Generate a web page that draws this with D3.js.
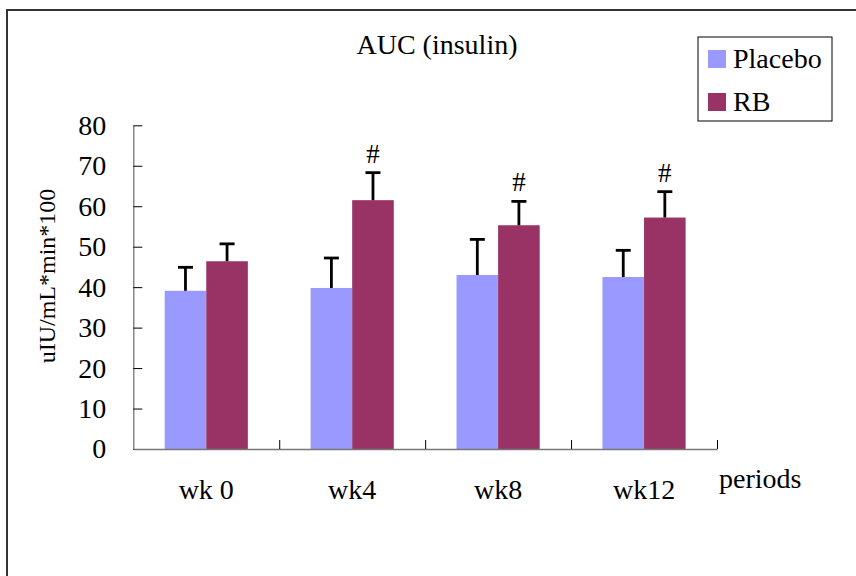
<!DOCTYPE html>
<html>
<head>
<meta charset="UTF-8" />
<title>AUC (insulin)</title>
<style>
  body { margin: 0; background: #fff; }
  svg { display: block; font-family: "Liberation Serif", "Times New Roman", serif; }
</style>
</head>
<body>
<script src="https://cdn.jsdelivr.net/npm/d3@7"></script>
<div id="app"></div>
<script>
// data
const periods = ["wk 0", "wk4", "wk8", "wk12"];
const series = ["Placebo", "RB"];
const placeboMean = [39.1, 39.8, 43.0, 42.5];
const placeboSd = [5.8, 7.4, 8.8, 6.6];
const rbMean = [46.4, 61.5, 55.3, 57.2];
const rbSd = [4.3, 6.8, 5.9, 6.4];
const rbMark = ["", "#", "#", "#"];
const yTicks = [0, 10, 20, 30, 40, 50, 60, 70, 80];

const colors = { "Placebo": "#9999ff", "RB": "#993366" };

const w = 856, h = 576;
const plotL = 133.3, plotR = 717, plotT = 125.3, plotB = 449;

const svg = d3.select("#app").append("svg")
  .attr("width", w)
  .attr("height", h);

// outer frame (only top and left edges show)
svg.append("rect")
  .attr("x", 7).attr("y", 10)
  .attr("width", 900).attr("height", 700)
  .attr("fill", "none")
  .attr("stroke", "#333")
  .attr("stroke-width", 2);

// scales
const x0 = d3.scaleBand()
  .domain(periods)
  .range([plotL, plotR])
  .paddingInner(0.43)
  .paddingOuter(0.215);

const x1 = d3.scaleBand()
  .domain(series)
  .range([0, x0.bandwidth()]);

const y = d3.scaleLinear()
  .domain([0, 80])
  .range([plotB, plotT]);

const rows = periods.map((p, i) => ({
  period: p,
  values: [
    { key: "Placebo", mean: placeboMean[i], sd: placeboSd[i], mark: "" },
    { key: "RB", mean: rbMean[i], sd: rbSd[i], mark: rbMark[i] }
  ]
}));

// bars
const groups = svg.selectAll("g.grp")
  .data(rows)
  .enter()
  .append("g")
  .attr("class", "grp")
  .attr("transform", d => "translate(" + x0(d.period) + ",0)");

groups.selectAll("rect")
  .data(d => d.values)
  .enter()
  .append("rect")
  .attr("x", d => x1(d.key))
  .attr("y", d => y(d.mean))
  .attr("width", x1.bandwidth())
  .attr("height", d => y(0) - y(d.mean))
  .attr("fill", d => colors[d.key]);

// error bars (upper only)
const err = groups.selectAll("g.err")
  .data(d => d.values)
  .enter()
  .append("g")
  .attr("class", "err")
  .attr("stroke", "#000")
  .attr("stroke-width", 2.8);

err.append("line")
  .attr("x1", d => x1(d.key) + x1.bandwidth() / 2)
  .attr("x2", d => x1(d.key) + x1.bandwidth() / 2)
  .attr("y1", d => y(d.mean))
  .attr("y2", d => y(d.mean + d.sd));

err.append("line")
  .attr("x1", d => x1(d.key) + x1.bandwidth() / 2 - 7.5)
  .attr("x2", d => x1(d.key) + x1.bandwidth() / 2 + 7.5)
  .attr("y1", d => y(d.mean + d.sd))
  .attr("y2", d => y(d.mean + d.sd));

groups.selectAll("text.mark")
  .data(d => d.values.filter(v => v.mark))
  .enter()
  .append("text")
  .attr("class", "mark")
  .attr("x", d => x1(d.key) + x1.bandwidth() / 2)
  .attr("y", d => y(d.mean + d.sd) - 10)
  .attr("text-anchor", "middle")
  .attr("font-size", 27)
  .text(d => d.mark);

// y axis
const yAxis = d3.axisLeft(y)
  .tickValues(yTicks)
  .tickSizeInner(-9)
  .tickSizeOuter(0)
  .tickPadding(27);

const gy = svg.append("g")
  .attr("transform", "translate(" + plotL + ",0)")
  .call(yAxis);
gy.select(".domain").attr("stroke", "#777").attr("stroke-width", 1.3);
gy.selectAll(".tick line").attr("stroke", "#000");
gy.selectAll(".tick text")
  .attr("font-family", "Liberation Serif, serif")
  .attr("font-size", 28)
  .attr("fill", "#000");

// x axis: boundary ticks
const xIdx = d3.scaleLinear().domain([0, periods.length]).range([plotL, plotR]);
const gx = svg.append("g")
  .attr("transform", "translate(0," + plotB + ")")
  .call(d3.axisBottom(xIdx)
    .tickValues(d3.range(1, periods.length + 1))
    .tickSizeInner(-9)
    .tickSizeOuter(0)
    .tickFormat(""));
gx.select(".domain").attr("stroke", "#777").attr("stroke-width", 1.3);
gx.selectAll(".tick line").attr("stroke", "#000");

// x category labels
const gxl = svg.append("g")
  .attr("transform", "translate(0," + plotB + ")")
  .call(d3.axisBottom(x0).tickSize(0).tickPadding(0));
gxl.select(".domain").remove();
gxl.selectAll(".tick text")
  .attr("y", 50)
  .attr("dy", null)
  .attr("font-family", "Liberation Serif, serif")
  .attr("font-size", 28)
  .attr("fill", "#000");

// titles
svg.append("text")
  .attr("x", 437)
  .attr("y", 54)
  .attr("text-anchor", "middle")
  .attr("font-size", 28)
  .text("AUC (insulin)");

svg.append("text")
  .attr("transform", "translate(55,276) rotate(-90)")
  .attr("text-anchor", "middle")
  .attr("font-size", 24)
  .text("uIU/mL*min*100");

svg.append("text")
  .attr("x", 719)
  .attr("y", 488)
  .attr("font-size", 28)
  .text("periods");

// legend
const legend = svg.append("g");
legend.append("rect")
  .attr("x", 698).attr("y", 37)
  .attr("width", 134).attr("height", 84)
  .attr("fill", "#fff")
  .attr("stroke", "#000")
  .attr("stroke-width", 1);

const li = legend.selectAll("g.li")
  .data(series)
  .enter()
  .append("g")
  .attr("class", "li")
  .attr("transform", (d, i) => "translate(708," + (50 + i * 43) + ")");

li.append("rect")
  .attr("width", 18)
  .attr("height", 18)
  .attr("fill", d => colors[d]);

li.append("text")
  .attr("x", 25)
  .attr("y", 18)
  .attr("font-size", 28)
  .text(d => d);
</script>
</body>
</html>
